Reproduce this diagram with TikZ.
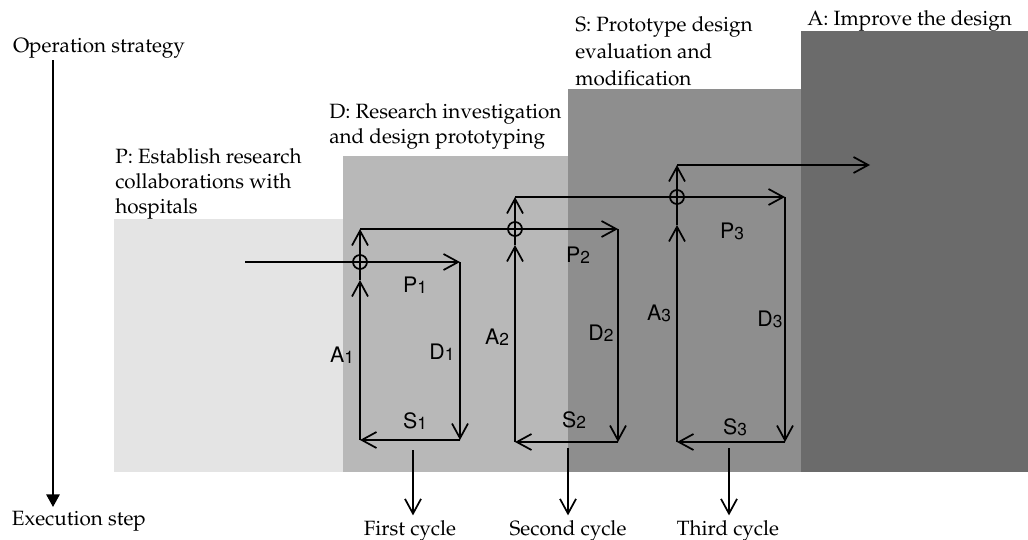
\documentclass[tikz,border=0pt]{standalone}
\usepackage[T1]{fontenc}
\renewcommand{\rmdefault}{ppl}
\renewcommand{\sfdefault}{phv}
\usetikzlibrary{arrows.meta}

\definecolor{planfill}{RGB}{228,228,228}
\definecolor{dofill}{RGB}{184,184,184}
\definecolor{studyfill}{RGB}{142,142,142}
\definecolor{actfill}{RGB}{107,107,107}

\newcommand{\cyc}[2]{#1\raisebox{-1.2pt}{\fontsize{13}{13}\selectfont#2}}

\begin{document}
\begin{tikzpicture}[x=0.75pt,y=0.75pt,yscale=-1,xscale=1,
	flow/.style={line width=1.3pt,-{Straight Barb[length=11pt,width=12pt]}},
	hub/.style={circle,draw,line width=1.3pt,minimum size=10.5pt,inner sep=0pt},
	phase/.style={anchor=north west,inner sep=0pt,align=left},
	cyclab/.style={anchor=base,inner sep=0pt,font=\sffamily\fontsize{16}{16}\selectfont},
	caption/.style={anchor=base,inner sep=0pt,outer sep=3.5pt,font=\fontsize{15.5}{18}\selectfont}]

\useasboundingbox (0,0) rectangle (1028,539);

%Shape: Rectangle [P]
\fill[planfill] (114,219) rectangle (343,472);
%Shape: Rectangle [D]
\fill[dofill] (343,156) rectangle (568,472);
%Shape: Rectangle [S]
\fill[studyfill] (568,89) rectangle (801,472);
%Shape: Rectangle [A]
\fill[actfill] (801,31) rectangle (1028,472);

% Text Node
\node[phase,font=\fontsize{15.5}{18.75}\selectfont] (plan) at (115,148) {P: Establish research\\collaborations with\\hospitals};
% Text Node
\node[phase,font=\fontsize{15.5}{18.75}\selectfont] (do) at (329,103) {D: Research investigation\\and design prototyping};
% Text Node
\node[phase,font=\fontsize{15.5}{20.25}\selectfont] (study) at (575,16) {S: Prototype design\\evaluation and\\modification};
% Text Node
\node[phase,font=\fontsize{15.5}{18.75}\selectfont] (act) at (807,10) {A: Improve the design};

%Straight Lines [axis]
\node[caption,anchor=base west,outer sep=0pt] (opstrat) at (13,52) {Operation strategy};
\node[caption,anchor=base west,outer sep=0pt] (exstep) at (12,525) {Execution step};
\coordinate (axtop) at (53,60);
\coordinate (axbot) at (53,507);
\draw[line width=1.6pt,-{Triangle[length=9.5pt,width=10pt]}] (axtop) -- (axbot);

%Cycle 1
\coordinate (in1) at (245,262);
\node[hub] (h1) at (360,262) {};
\coordinate (p1) at (460,262);
\coordinate (s1) at (460,440);
\coordinate (a1) at (360,440);
\coordinate (m1) at (360,280);
\coordinate (t1) at (360,229);
\draw[flow] (in1) -- (p1);
\draw[flow] (p1) -- (s1);
\draw[flow] (s1) -- (a1);
\draw[flow] (a1) -- (m1);
\draw[flow] (m1) -- (t1);

%Cycle 2
\node[hub] (h2) at (515,229) {};
\coordinate (p2) at (618,229);
\coordinate (s2) at (618,442);
\coordinate (a2) at (515,442);
\coordinate (m2) at (515,245);
\coordinate (t2) at (515,197);
\draw[flow] (t1) -- (p2);
\draw[flow] (p2) -- (s2);
\draw[flow] (s2) -- (a2);
\draw[flow] (a2) -- (m2);
\draw[flow] (m2) -- (t2);

%Cycle 3
\node[hub] (h3) at (677,197) {};
\coordinate (p3) at (785,197);
\coordinate (s3) at (785,442);
\coordinate (a3) at (677,442);
\coordinate (m3) at (677,225);
\coordinate (t3) at (677,165);
\coordinate (out) at (870,165);
\draw[flow] (t2) -- (p3);
\draw[flow] (p3) -- (s3);
\draw[flow] (s3) -- (a3);
\draw[flow] (a3) -- (m3);
\draw[flow] (m3) -- (t3);
\draw[flow] (t3) -- (out);

% Text Node
\node[cyclab] (lp1) at (415,292) {\cyc{P}{1}};
\node[cyclab] (la1) at (342,362) {\cyc{A}{1}};
\node[cyclab] (ld1) at (442,359) {\cyc{D}{1}};
\node[cyclab] (ls1) at (415,428) {\cyc{S}{1}};
\node[cyclab] (lp2) at (578,262) {\cyc{P}{2}};
\node[cyclab] (la2) at (497,344) {\cyc{A}{2}};
\node[cyclab] (ld2) at (601,340) {\cyc{D}{2}};
\node[cyclab] (ls2) at (574,427) {\cyc{S}{2}};
\node[cyclab] (lp3) at (732,238) {\cyc{P}{3}};
\node[cyclab] (la3) at (659,320) {\cyc{A}{3}};
\node[cyclab] (ld3) at (770,326) {\cyc{D}{3}};
\node[cyclab] (ls3) at (735,434) {\cyc{S}{3}};

%Outputs
\node[caption] (first) at (410,535) {First cycle};
\node[caption] (second) at (568,535) {Second cycle};
\node[caption] (third) at (728,535) {Third cycle};
\coordinate (o1) at (413,450);
\coordinate (o2) at (568,448);
\coordinate (o3) at (729,448);
\draw[flow] (o1) -- (o1 |- first.north);
\draw[flow] (o2) -- (o2 |- second.north);
\draw[flow] (o3) -- (o3 |- third.north);

\end{tikzpicture}
\end{document}
